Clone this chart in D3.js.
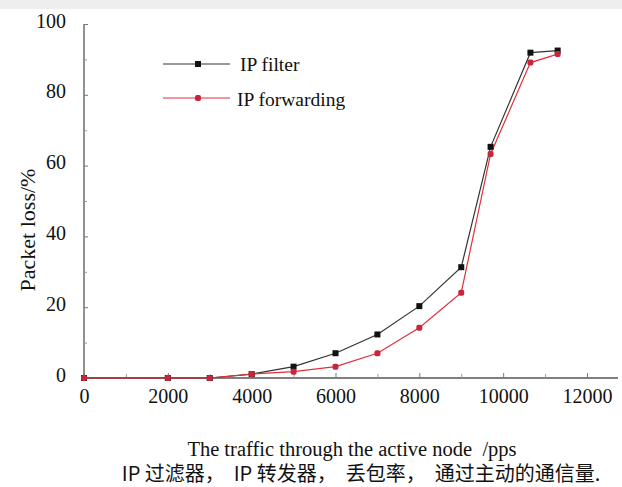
<!DOCTYPE html>
<html><head><meta charset="utf-8">
<script src="https://cdn.jsdelivr.net/npm/d3@7"></script>
<style>body{margin:0;background:#fff}svg{display:block}</style>
</head><body>
<svg id="c" width="622" height="487"></svg>
<script>
const traffic = [0, 2000, 3000, 4000, 5000, 6000, 7000, 8000, 9000, 9700, 10650, 11300];
const ipFilter = [0, 0, 0, 1.1, 3.2, 7.0, 12.3, 20.3, 31.3, 65.3, 91.9, 92.5];
const ipForwarding = [0, 0, 0, 1.1, 1.8, 3.2, 7.0, 14.2, 24.1, 63.3, 89.1, 91.5];
const xTicks = [0, 2000, 4000, 6000, 8000, 10000, 12000];
const xMinor = [1000, 3000, 5000, 7000, 9000, 11000];
const yTicks = [0, 20, 40, 60, 80, 100];
const yMinor = [10, 30, 50, 70, 90];
const seriesNames = ["IP filter", "IP forwarding"];
const colors = ["#333", "#e0303c"];
const markerColors = ["#111", "#c8243a"];

const svg = d3.select("#c");
const x = d3.scaleLinear().domain([0, 12000]).range([84, 587]);
const y = d3.scaleLinear().domain([0, 100]).range([378, 24]);
const serif = "'Liberation Serif','Times New Roman',serif";

// faint background band at the top
svg.append("rect").attr("x", 0).attr("y", 0).attr("width", 622).attr("height", 9).attr("fill", "#eeeeee");

// axes
svg.append("line").attr("x1", 84).attr("x2", 618).attr("y1", y(0)).attr("y2", y(0)).attr("stroke", "#555").attr("stroke-width", 1.3);
svg.append("line").attr("x1", x(0)).attr("x2", x(0)).attr("y1", y(0)).attr("y2", y(100)).attr("stroke", "#555").attr("stroke-width", 1.3);

const xa = svg.append("g").attr("transform", `translate(0,${y(0)})`)
  .call(d3.axisBottom(x).tickValues(xTicks).tickSize(-5).tickPadding(11).tickFormat(d3.format("d")));
xa.select(".domain").remove();
xa.selectAll("line").attr("stroke", "#777");
xa.selectAll("text").attr("font-family", serif).attr("font-size", 20).attr("fill", "#111");
svg.append("g").attr("transform", `translate(0,${y(0)})`)
  .call(d3.axisBottom(x).tickValues(xMinor).tickSize(-4).tickFormat(""))
  .call(g => { g.select(".domain").remove(); g.selectAll("line").attr("stroke", "#999"); });

const ya = svg.append("g").attr("transform", `translate(${x(0)},0)`)
  .call(d3.axisLeft(y).tickValues(yTicks).tickSize(-4).tickPadding(18));
ya.select(".domain").remove();
ya.selectAll("line").attr("stroke", "#777");
ya.selectAll("text").attr("font-family", serif).attr("font-size", 20).attr("fill", "#111").attr("dy", "0.15em");
svg.append("g").attr("transform", `translate(${x(0)},0)`)
  .call(d3.axisLeft(y).tickValues(yMinor).tickSize(-3).tickFormat(""))
  .call(g => { g.select(".domain").remove(); g.selectAll("line").attr("stroke", "#999"); });

// series
const data = [ipFilter, ipForwarding];
const line = d3.line().x((d, i) => x(traffic[i])).y(d => y(d));
data.forEach((vals, k) => {
  svg.append("path").datum(vals).attr("d", line).attr("fill", "none")
    .attr("stroke", colors[k]).attr("stroke-width", 1.2);
});
data.forEach((vals, k) => {
  svg.append("g").selectAll("rect").data(vals).join("rect")
    .attr("x", (d, i) => x(traffic[i]) - 3).attr("y", d => y(d) - 3)
    .attr("width", 6).attr("height", 6).attr("rx", k === 1 ? 2 : 0)
    .attr("fill", markerColors[k]);
});

// legend
const leg = [[64, 0, 240, 71], [98, 1, 237, 106]];
leg.forEach(([ly, k, tx, ty]) => {
  svg.append("line").attr("x1", 163).attr("x2", 230).attr("y1", ly).attr("y2", ly)
    .attr("stroke", colors[k]).attr("stroke-width", 1.2);
  svg.append("rect").attr("x", 195).attr("y", ly - 3).attr("width", 6).attr("height", 6)
    .attr("rx", k === 1 ? 2 : 0).attr("fill", markerColors[k]);
  svg.append("text").attr("x", tx).attr("y", ty)
    .attr("font-family", serif).attr("font-size", 19.5).attr("fill", "#111").text(seriesNames[k]);
});

// labels
svg.append("text").attr("transform", "translate(35,230) rotate(-90)").attr("text-anchor", "middle")
  .attr("font-family", serif).attr("font-size", 22).attr("fill", "#111").text("Packet loss/%");
svg.append("text").attr("x", 352).attr("y", 456).attr("text-anchor", "middle")
  .attr("font-family", serif).attr("font-size", 20.5).attr("fill", "#111").attr("xml:space", "preserve")
  .text("The traffic through the active node  /pps");
svg.append("text").attr("x", 361).attr("y", 481).attr("text-anchor", "middle")
  .attr("font-family", "'Noto Sans CJK SC',sans-serif").attr("font-size", 20).attr("fill", "#111")
  .attr("xml:space", "preserve")
  .text("IP 过滤器，  IP 转发器，  丢包率，  通过主动的通信量.");
</script>
</body></html>
